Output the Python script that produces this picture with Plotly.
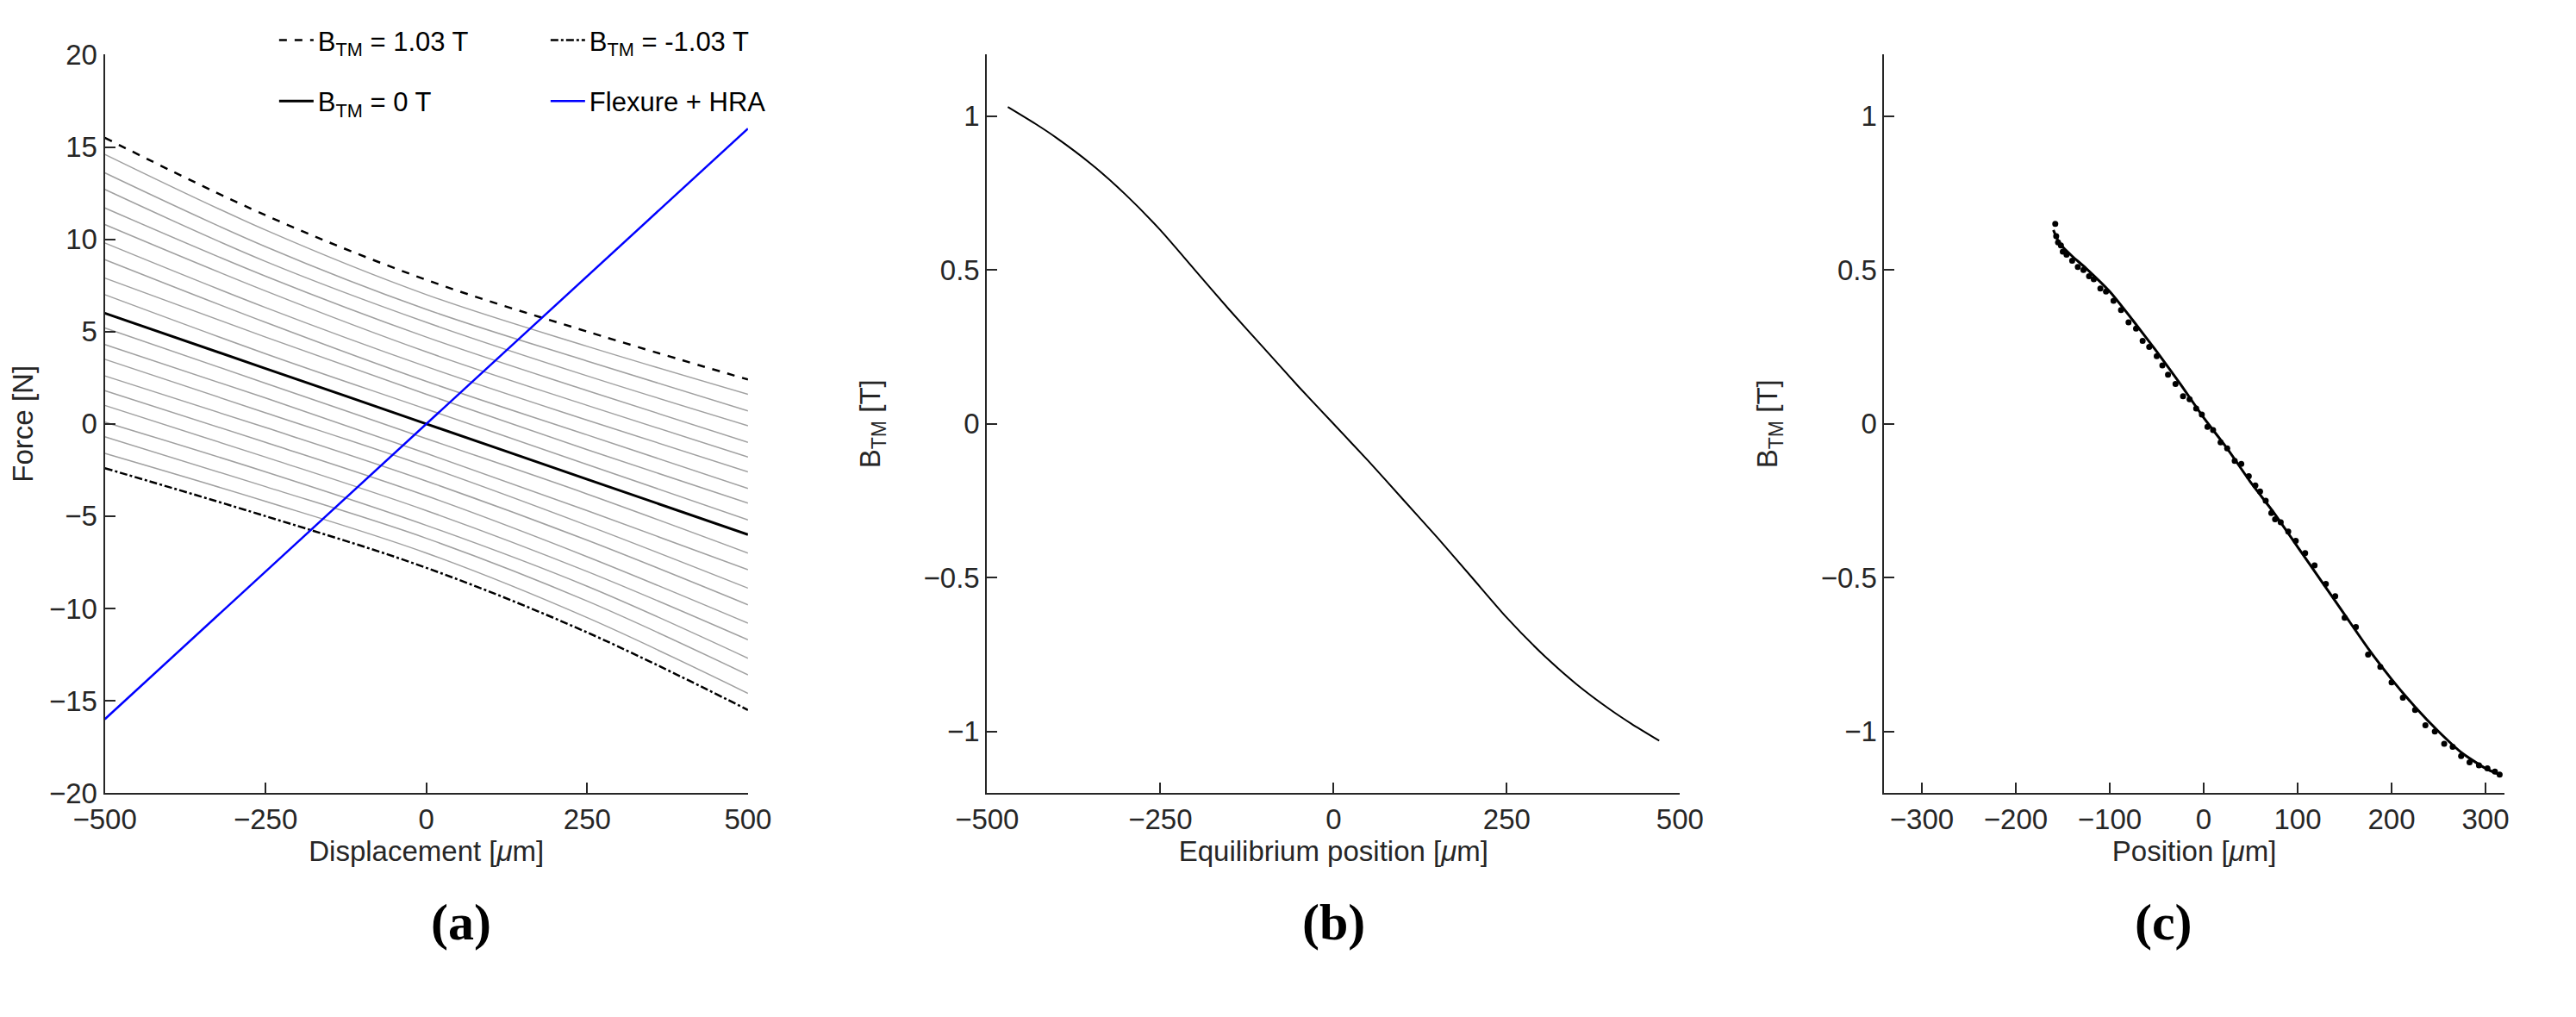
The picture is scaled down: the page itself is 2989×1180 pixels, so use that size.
import plotly.graph_objects as go

# Panel (a)
disp = [-500, -250, 0, 250, 500]
f_pos = [15.5, 11.3, 7.8, 5.0, 2.4]
f_zero = [6.0, 3.0, 0.0, -3.0, -6.0]
f_neg = [-2.4, -5.0, -7.8, -11.3, -15.5]
gray_rows = [
    [14.6, 10.5, 7.0, 4.2, 1.6],
    [13.6, 9.6, 6.2, 3.4, 0.7],
    [12.7, 8.8, 5.5, 2.6, -0.1],
    [11.7, 8.0, 4.7, 1.8, -1.0],
    [10.8, 7.2, 3.9, 1.0, -1.8],
    [9.8, 6.3, 3.1, 0.2, -2.6],
    [8.9, 5.5, 2.3, -0.6, -3.5],
    [7.9, 4.7, 1.6, -1.4, -4.3],
    [7.0, 3.8, 0.8, -2.2, -5.2],
    [5.2, 2.2, -0.8, -3.8, -7.0],
    [4.3, 1.4, -1.6, -4.7, -7.9],
    [3.5, 0.6, -2.3, -5.5, -8.9],
    [2.6, -0.2, -3.1, -6.3, -9.8],
    [1.8, -1.0, -3.9, -7.2, -10.8],
    [1.0, -1.8, -4.7, -8.0, -11.7],
    [0.1, -2.6, -5.5, -8.8, -12.7],
    [-0.7, -3.4, -6.2, -9.6, -13.6],
    [-1.6, -4.2, -7.0, -10.5, -14.6],
]
flex_x = [-500, 500]
flex_y = [-16.0, 16.0]

# Panel (b)
eq_x = [-470, -430, -400, -350, -300, -250, -200, -150, -100, -50, 0, 50, 100, 150, 200, 250, 300, 350, 400, 430, 470]
eq_b = [1.03, 0.975, 0.93, 0.845, 0.745, 0.63, 0.50, 0.37, 0.245, 0.12, 0.0, -0.12, -0.245, -0.37, -0.50, -0.63, -0.745,
        -0.845, -0.93, -0.975, -1.03]

# Panel (c)
fit_x = [-160, -155, -150, -140, -125, -100, -75, -50, -25, 0, 25, 50, 75, 100, 125, 150, 175, 200, 225, 250, 275, 300, 315]
fit_b = [0.63, 0.595, 0.575, 0.545, 0.505, 0.43, 0.335, 0.235, 0.13, 0.02, -0.08, -0.19, -0.29, -0.40, -0.51, -0.62, -0.73,
         -0.83, -0.92, -1.00, -1.07, -1.12, -1.14]
pt_x = [-158, -157, -155, -152, -150, -146, -140, -134, -128, -122, -117, -110, -104, -96, -88, -80, -72, -65,
        -58, -50, -44, -38, -30, -22, -15, -8, -2, 4, 10, 18, 25, 33, 40, 48, 55, 60, 66, 72, 76, 82, 90, 98,
        108, 118, 130, 140, 150, 162, 175, 188, 200, 212, 225, 236, 246, 256, 265, 274, 283, 293, 302, 310, 315]
pt_b = [0.65, 0.61, 0.59, 0.58, 0.56, 0.55, 0.53, 0.51, 0.50, 0.48, 0.47, 0.44, 0.43, 0.40, 0.37, 0.33, 0.31, 0.27,
        0.25, 0.22, 0.19, 0.16, 0.13, 0.09, 0.08, 0.05, 0.03, -0.01, -0.02, -0.06, -0.08, -0.12, -0.13, -0.17, -0.20,
        -0.22, -0.25, -0.29, -0.31, -0.32, -0.35, -0.38, -0.42, -0.46, -0.52, -0.56, -0.63, -0.66, -0.75, -0.79,
        -0.84, -0.89, -0.93, -0.98, -1.00, -1.04, -1.05, -1.08, -1.10, -1.11, -1.12, -1.13, -1.14]

fig = go.Figure()
for row in gray_rows:
    fig.add_trace(go.Scatter(x=disp, y=row, mode="lines", line=dict(color="#a0a0a0", width=1.5, shape="spline"),
                             showlegend=False, xaxis="x", yaxis="y"))
fig.add_trace(go.Scatter(x=disp, y=f_pos, mode="lines", name="B<sub>TM</sub> = 1.03 T", legend="legend",
                         line=dict(color="black", width=2.5, dash="dash", shape="spline"), xaxis="x", yaxis="y"))
fig.add_trace(go.Scatter(x=disp, y=f_neg, mode="lines", name="B<sub>TM</sub> = -1.03 T", legend="legend",
                         line=dict(color="black", width=2.5, dash="dashdot", shape="spline"), xaxis="x", yaxis="y"))
fig.add_trace(go.Scatter(x=disp, y=f_zero, mode="lines", name="B<sub>TM</sub> = 0 T", legend="legend2",
                         line=dict(color="black", width=3, shape="spline"), xaxis="x", yaxis="y"))
fig.add_trace(go.Scatter(x=flex_x, y=flex_y, mode="lines", name="Flexure + HRA", legend="legend2",
                         line=dict(color="#0000ff", width=2.5), xaxis="x", yaxis="y"))

fig.add_trace(go.Scatter(x=eq_x, y=eq_b, mode="lines", line=dict(color="black", width=2, shape="spline", smoothing=0.6),
                         showlegend=False, xaxis="x2", yaxis="y2"))
fig.add_trace(go.Scatter(x=fit_x, y=fit_b, mode="lines", line=dict(color="black", width=3, shape="spline", smoothing=0.5),
                         showlegend=False, xaxis="x3", yaxis="y3"))
fig.add_trace(go.Scatter(x=pt_x, y=pt_b, mode="markers", marker=dict(color="black", size=7),
                         showlegend=False, xaxis="x3", yaxis="y3"))

font = dict(family="Liberation Sans, Arial", size=33, color="#262626")
ax = dict(showline=True, linecolor="#262626", linewidth=2, ticks="inside", ticklen=12, tickwidth=2,
          tickcolor="#262626", showgrid=False, zeroline=False, tickfont=font, title_font=font, automargin=False)
yd = [0.227, 0.953]
lfont = dict(family="Liberation Sans, Arial", size=31, color="black")
fig.update_layout(
    width=2989, height=1180, paper_bgcolor="white", plot_bgcolor="white",
    margin=dict(l=0, r=0, t=0, b=0), font=font,
    xaxis=dict(ax, domain=[0.038, 0.2877], range=[-500, 500], tickvals=[-500, -250, 0, 250, 500],
               title=dict(text="Displacement [<i>μ</i>m]", standoff=6), anchor="y"),
    yaxis=dict(ax, domain=yd, range=[-20, 20], dtick=5, title=dict(text="Force [N]", standoff=8), anchor="x"),
    xaxis2=dict(ax, domain=[0.3805, 0.6495], range=[-500, 500], tickvals=[-500, -250, 0, 250, 500],
                title=dict(text="Equilibrium position [<i>μ</i>m]", standoff=6), anchor="y2"),
    yaxis2=dict(ax, domain=yd, range=[-1.2, 1.2], tickvals=[-1, -0.5, 0, 0.5, 1],
                title=dict(text="B<sub>TM</sub> [T]", standoff=40), anchor="x2"),
    xaxis3=dict(ax, domain=[0.7288, 0.9695], range=[-340, 320], tickvals=[-300, -200, -100, 0, 100, 200, 300],
                title=dict(text="Position [<i>μ</i>m]", standoff=6), anchor="y3"),
    yaxis3=dict(ax, domain=yd, range=[-1.2, 1.2], tickvals=[-1, -0.5, 0, 0.5, 1],
                title=dict(text="B<sub>TM</sub> [T]", standoff=40), anchor="x3"),
    legend=dict(orientation="h", x=0.104, y=0.99, xanchor="left", yanchor="top", entrywidth=260,
                bgcolor="rgba(0,0,0,0)", font=lfont, itemwidth=40),
    legend2=dict(orientation="h", x=0.104, y=0.93, xanchor="left", yanchor="top", entrywidth=260,
                 bgcolor="rgba(0,0,0,0)", font=lfont, itemwidth=40),
)
for xpos, lab in [(0.164, "(a)"), (0.515, "(b)"), (0.849, "(c)")]:
    fig.add_annotation(x=xpos, y=0.07, xref="paper", yref="paper", text="<b>" + lab + "</b>", showarrow=False,
                       font=dict(family="Liberation Serif, serif", size=60, color="black"))
fig.write_html("out.html")
